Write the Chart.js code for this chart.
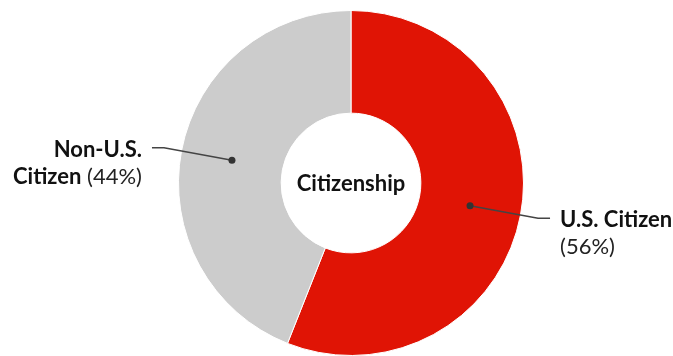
<!DOCTYPE html>
<html>
<head>
<meta charset="utf-8">
<script src="https://cdn.jsdelivr.net/npm/chart.js@4.4.1/dist/chart.umd.min.js"></script>
<style>
html,body{margin:0;padding:0;background:#fff;}
#wrap{width:673px;height:356px;position:relative;}
</style>
</head>
<body>
<div id="wrap"><canvas id="c" width="673" height="356"></canvas></div>
<script>
const categories = ['U.S. Citizen', 'Non-U.S. Citizen'];
const values = [56, 44];
const colors = ['#e01405', '#cccccc'];
const centerTitle = 'Citizenship';
// label lines: each line is a list of [text, bold]
const labelLines = [
  [[['U.S. Citizen', true]], [['(56%)', false]]],
  [[['Non-U.S.', true]], [['Citizen', true], [' (44%)', false]]]
];

const FONT = 'Lato, "Open Sans", sans-serif';
const FS = 22;

const annotatePlugin = {
  id: 'annotate',
  afterDatasetsDraw(chart) {
    const ctx = chart.ctx;
    const meta = chart.getDatasetMeta(0);
    const first = meta.data[0];
    const cx = first.x, cy = first.y;
    ctx.save();
    ctx.fillStyle = '#111';
    ctx.font = 'bold ' + FS + 'px ' + FONT;
    ctx.textAlign = 'center';
    ctx.textBaseline = 'middle';
    ctx.fillText(centerTitle, cx, cy + 1);

    meta.data.forEach((arc, i) => {
      const p = arc.tooltipPosition();
      const side = p.x >= cx ? 1 : -1;
      const ex = p.x + side * 68;
      const ey = p.y + (p.y - cy) * 0.55;
      const hx = ex + side * 12;
      ctx.strokeStyle = '#444';
      ctx.lineWidth = 1.5;
      ctx.beginPath();
      ctx.moveTo(p.x, p.y);
      ctx.lineTo(ex, ey);
      ctx.lineTo(hx, ey);
      ctx.stroke();
      ctx.fillStyle = '#333';
      ctx.beginPath();
      ctx.arc(p.x, p.y, 3.5, 0, Math.PI * 2);
      ctx.fill();

      const lines = labelLines[i];
      const tx = hx + side * 10;
      ctx.textBaseline = 'alphabetic';
      ctx.textAlign = 'left';
      lines.forEach((line, li) => {
        const by = ey + 9 + li * 27;
        let w = 0;
        const parts = line.map(([t, b]) => {
          ctx.font = (b ? 'bold ' : '') + FS + 'px ' + FONT;
          const mw = ctx.measureText(t).width;
          w += mw;
          return [t, b, mw];
        });
        let x = side > 0 ? tx : tx - w;
        parts.forEach(([t, b, mw]) => {
          ctx.font = (b ? 'bold ' : '') + FS + 'px ' + FONT;
          ctx.fillStyle = b ? '#111' : '#222';
          ctx.fillText(t, x, by);
          x += mw;
        });
      });
    });
    ctx.restore();
  }
};

new Chart(document.getElementById('c'), {
  type: 'doughnut',
  data: {
    labels: categories,
    datasets: [{
      data: values,
      backgroundColor: colors,
      borderColor: '#ffffff',
      borderWidth: 1,
      hoverOffset: 0
    }]
  },
  options: {
    responsive: false,
    animation: false,
    cutout: '40.5%',
    layout: { padding: { top: 10, bottom: 0, left: 29, right: 0 } },
    plugins: { legend: { display: false }, tooltip: { enabled: false } }
  },
  plugins: [annotatePlugin]
});
</script>
</body>
</html>
